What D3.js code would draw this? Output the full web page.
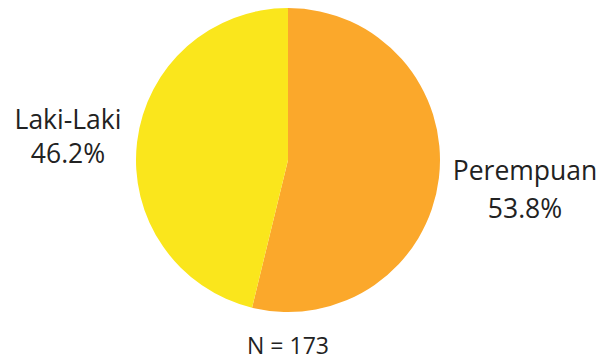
<!DOCTYPE html>
<html><head><meta charset="utf-8">
<script src="https://cdn.jsdelivr.net/npm/d3@7"></script>
<style>body{margin:0;background:#fff}svg{display:block}</style>
</head><body>
<svg id="c" width="602" height="360"></svg>
<script>
const categories = ["Perempuan", "Laki-Laki"];
const values = [53.8, 46.2];
const colors = ["#FBA82B", "#FAE61C"];
const note = "N = 173";

const svg = d3.select("#c");
const cx = 288, cy = 160, r = 152;
const pie = d3.pie().sort(null).value(d => d.v);
const data = pie(categories.map((c, i) => ({c, v: values[i], col: colors[i]})));
const arc = d3.arc().innerRadius(0).outerRadius(r);
const g = svg.append("g").attr("transform", `translate(${cx},${cy})`);
g.selectAll("path").data(data).join("path").attr("d", arc).attr("fill", d => d.data.col);

const font = "'Open Sans', sans-serif";
const labelPos = [{x: 525, y1: 180, y2: 218}, {x: 68, y1: 129, y2: 163}];
data.forEach((d, i) => {
  const p = labelPos[i];
  const t = svg.append("text").attr("text-anchor", "middle").attr("font-family", font)
    .attr("font-size", 26.5).attr("fill", "#222");
  t.append("tspan").attr("x", p.x).attr("y", p.y1).text(d.data.c);
  t.append("tspan").attr("x", p.x).attr("y", p.y2).text(d.data.v.toFixed(1) + "%");
});
svg.append("text").attr("x", 288).attr("y", 354).attr("text-anchor", "middle")
  .attr("font-family", font).attr("font-size", 23).attr("fill", "#222").text(note);
</script>
</body></html>
